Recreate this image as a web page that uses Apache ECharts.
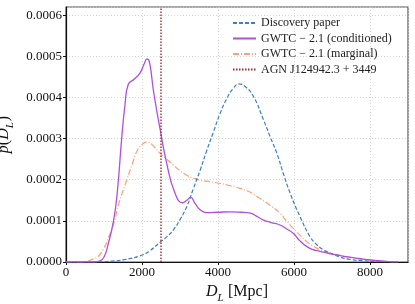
<!DOCTYPE html>
<html><head><meta charset="utf-8">
<script src="https://cdn.jsdelivr.net/npm/echarts@6/dist/echarts.min.js"></script>
<style>html,body{margin:0;padding:0;background:#fff}#c{width:415px;height:304px}</style>
</head><body><div id="c"></div>
<script>
// Discovery paper
const discD = [700, 1000, 1200, 1500, 1950, 2200, 2475, 2650, 2825, 3000, 3180, 3350, 3530, 3700, 3880, 4050, 4230, 4400, 4560, 4700, 4930, 5200, 5370, 5550, 5720, 5900, 6160, 6420, 6600, 6770, 7000, 7210, 7500, 7820, 8200, 8600];
const discP = [0, 0.000001, 0.000002, 0.000005, 0.000015, 0.000027, 0.000048, 0.000061, 0.000078, 0.000103, 0.000135, 0.000178, 0.000223, 0.00027, 0.000316, 0.00036, 0.000397, 0.000422, 0.000433, 0.000428, 0.000403, 0.000345, 0.000305, 0.000264, 0.000215, 0.000167, 0.00011, 0.000062, 0.000042, 0.00003, 0.00002, 0.000012, 0.000006, 0.000003, 0.000001, 0];
// GWTC-2.1 conditioned
const condD = [0, 400, 700, 900, 1000, 1100, 1250, 1350, 1465, 1550, 1640, 1800, 1950, 2050, 2130, 2200, 2300, 2474, 2650, 2870, 3070, 3180, 3280, 3400, 3530, 3700, 4000, 4300, 4600, 4850, 5000, 5200, 5400, 5630, 5800, 5980, 6150, 6330, 6500, 6680, 6900, 7120, 7500, 7820, 8200, 8450, 8750];
const condP = [0, 0, 0, 0.000003, 0.000012, 0.00004, 0.0001, 0.00017, 0.0003, 0.00038, 0.000432, 0.000445, 0.00046, 0.00048, 0.000494, 0.000485, 0.000417, 0.000324, 0.00024, 0.000167, 0.000144, 0.00015, 0.000157, 0.000142, 0.000127, 0.00012, 0.000121, 0.000122, 0.000121, 0.000119, 0.000112, 0.000102, 0.000096, 0.00009, 0.000081, 0.00007, 0.000052, 0.000038, 0.00003, 0.000026, 0.000021, 0.000017, 0.000011, 0.000007, 0.000003, 0.0000015, 0];
// GWTC-2.1 marginal
const margD = [0, 300, 500, 700, 850, 1000, 1120, 1245, 1400, 1600, 1750, 1860, 2000, 2140, 2300, 2475, 2650, 2825, 3000, 3180, 3350, 3530, 3800, 4050, 4300, 4580, 4840, 5100, 5400, 5630, 5800, 5980, 6150, 6330, 6500, 6680, 6900, 7120, 7500, 7820, 8200, 8450, 8700];
const margP = [0, 0, 0.000001, 0.000007, 0.000014, 0.000034, 0.00006, 0.00009, 0.000145, 0.0002, 0.00024, 0.000268, 0.000286, 0.000292, 0.000282, 0.000264, 0.00025, 0.000236, 0.000222, 0.000211, 0.000204, 0.000199, 0.000195, 0.000191, 0.000186, 0.000179, 0.00017, 0.000155, 0.000136, 0.000119, 0.0001, 0.000082, 0.000066, 0.00005, 0.000039, 0.00003, 0.000023, 0.000018, 0.000011, 0.000007, 0.000003, 0.0000015, 0];
// AGN position
const agnD = 2500;
const seriesNames = ['Discovery paper', 'GWTC \u2212 2.1 (conditioned)', 'GWTC \u2212 2.1 (marginal)', 'AGN J124942.3 + 3449'];
const xMin = 0, xMax = 9000, xStep = 2000;
const yMin = 0, yMax = 0.00062, yStep = 0.0001;

const F = 'Liberation Serif';
const zip = (a, b) => a.map((v, i) => [v, b[i]]);
const chart = echarts.init(document.getElementById('c'), null, {renderer: 'canvas'});
const richName = {
  n: {fontFamily: F, fontSize: 16, color: '#111', lineHeight: 18, verticalAlign: 'top'},
  i: {fontFamily: F, fontSize: 16, color: '#111', fontStyle: 'italic', lineHeight: 18, verticalAlign: 'top'},
  s: {fontFamily: F, fontSize: 11, color: '#111', fontStyle: 'italic', lineHeight: 11, verticalAlign: 'top', padding: [9, 1, 0, 0]}
};
chart.setOption({
  animation: false,
  backgroundColor: '#fff',
  grid: {left: 66, right: 7, top: 7, bottom: 42, outerBoundsMode: 'none', containLabel: false,
    show: true, borderColor: '#555', borderWidth: 1.2, backgroundColor: 'transparent'},
  legend: {
    orient: 'vertical', left: 232, top: 17, padding: 0, itemWidth: 23, itemHeight: 10, itemGap: 3.5,
    itemStyle: {opacity: 0},
    textStyle: {fontFamily: F, fontSize: 12, color: '#222'},
    data: seriesNames
  },
  xAxis: {
    type: 'value', min: xMin, max: xMax, interval: xStep,
    name: '{i|D}{s|L} {n|[Mpc]}', nameLocation: 'middle', nameGap: 22,
    nameTextStyle: {rich: richName},
    axisLine: {lineStyle: {color: '#111', width: 1.2}},
    axisTick: {show: true, length: 3, inside: false, lineStyle: {color: '#111'}},
    axisLabel: {fontFamily: F, fontSize: 13, color: '#111', margin: 4, showMaxLabel: false,
      formatter: v => String(v)},
    splitLine: {show: true, lineStyle: {color: '#ccc', type: [1, 2], width: 0.8}}
  },
  yAxis: {
    type: 'value', min: yMin, max: yMax, interval: yStep,
    name: '{i|p}{n|(}{i|D}{s|L}{n|)}', nameLocation: 'middle', nameGap: 46,
    nameTextStyle: {rich: richName},
    axisLine: {show: true, lineStyle: {color: '#111', width: 1.2}},
    axisTick: {show: true, length: 3, inside: false, lineStyle: {color: '#111'}},
    axisLabel: {fontFamily: F, fontSize: 13, color: '#111', margin: 4, showMaxLabel: false,
      formatter: v => v.toFixed(4)},
    splitLine: {show: true, lineStyle: {color: '#ccc', type: [1, 2], width: 0.8}}
  },
  series: [
    {name: seriesNames[0], type: 'line', data: zip(discD, discP), smooth: 0.5, symbol: 'none',
      color: '#3f7fc0', lineStyle: {color: '#3f7fc0', width: 1.2, type: [4, 2]}, z: 3},
    {name: seriesNames[1], type: 'line', data: zip(condD, condP), smooth: 0.5, symbol: 'none',
      color: '#b04fdc', lineStyle: {color: '#b04fdc', width: 1.3, type: 'solid'}, z: 4},
    {name: seriesNames[2], type: 'line', data: zip(margD, margP), smooth: 0.5, symbol: 'none',
      color: '#ff9f75', lineStyle: {color: '#ff9f75', width: 1.2, type: [6, 2, 1, 2]}, z: 2},
    {name: seriesNames[3], type: 'line', data: [[agnD, yMin], [agnD, yMax]], symbol: 'none',
      color: '#a8282c', lineStyle: {color: '#a8282c', width: 1.4, type: [1.5, 1.5]}, z: 5}
  ]
});
</script></body></html>
